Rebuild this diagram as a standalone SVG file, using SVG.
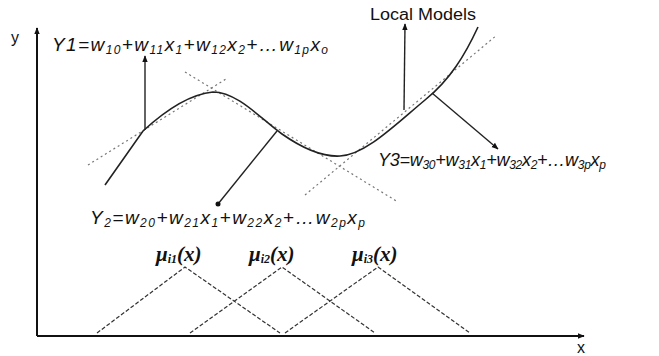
<svg xmlns="http://www.w3.org/2000/svg" width="659" height="356" viewBox="0 0 659 356">
<defs>
<marker id="ah" viewBox="0 0 10 10" refX="9" refY="5" markerWidth="7" markerHeight="7" orient="auto" markerUnits="userSpaceOnUse">
<path d="M0,1 L10,5 L0,9 z" fill="#111"/>
</marker>
<style>
.ax{stroke:#111;stroke-width:2;fill:none}
.curve{stroke:#222;stroke-width:1.6;fill:none}
.lm{stroke:#777;stroke-width:1.2;stroke-dasharray:2 3;fill:none}
.mf{stroke:#333;stroke-width:1.2;stroke-dasharray:4 2;fill:none}
.ln{stroke:#222;stroke-width:1.4;fill:none}
.eq{font-family:"Liberation Sans",Arial,sans-serif;font-style:italic;font-size:19px;fill:#111}
.eq3{font-size:18px}
.sub{font-size:12px}
.lab{font-family:"Liberation Sans",Arial,sans-serif;font-size:16px;fill:#111}
.mu{font-family:"Liberation Serif","Times New Roman",serif;font-style:italic;font-weight:bold;font-size:21px;fill:#111}
.musub{font-size:12px}
</style>
</defs>
<rect width="659" height="356" fill="#fff"/>
<g id="axes">
<line class="ax" x1="37" y1="336" x2="37" y2="28" marker-end="url(#ah)"/>
<line class="ax" x1="37" y1="336" x2="584" y2="336" marker-end="url(#ah)"/>
<text class="lab" x="11" y="43">y</text>
<text class="lab" x="577" y="353">x</text>
</g>
<g id="local-models">
<line class="lm" x1="88" y1="165" x2="226" y2="79"/>
<line class="lm" x1="185" y1="72" x2="398" y2="202"/>
<line class="lm" x1="305" y1="195" x2="497" y2="35"/>
</g>
<g id="nonlinear-curve">
<path class="curve" d="M105,185 L143,131 C168,108 192,94 213,92 C238,92 262,120 282,134 C302,148 322,157 340,156 C365,155 395,125 425,100 C450,80 465,55 478,27"/>
</g>
<g id="membership-functions">
<polyline class="mf" points="97,333 185,267 280,333"/>
<polyline class="mf" points="190,333 282,267 375,333"/>
<polyline class="mf" points="285,333 378,267 470,333"/>
</g>
<g id="connectors">
<line class="ln" x1="145" y1="130" x2="145" y2="56" marker-end="url(#ah)"/>
<line class="ln" x1="404" y1="110" x2="405" y2="24" marker-end="url(#ah)"/>
<line class="ln" x1="432" y1="93" x2="498" y2="149" marker-end="url(#ah)"/>
<line class="ln" x1="277" y1="131" x2="218" y2="204"/>
<circle cx="218" cy="204" r="2.5" fill="#111"/>
</g>
<g id="label-local-models">
<text class="lab" x="370" y="20" textLength="106" lengthAdjust="spacingAndGlyphs">Local Models</text>
</g>
<g id="eq-y1">
<text class="eq" x="52" y="51" textLength="276">Y1=w<tspan class="sub" dy="3">10</tspan><tspan dy="-3">+w</tspan><tspan class="sub" dy="3">11</tspan><tspan dy="-3">x</tspan><tspan class="sub" dy="3">1</tspan><tspan dy="-3">+w</tspan><tspan class="sub" dy="3">12</tspan><tspan dy="-3">x</tspan><tspan class="sub" dy="3">2</tspan><tspan dy="-3">+…w</tspan><tspan class="sub" dy="3">1p</tspan><tspan dy="-3">x</tspan><tspan class="sub" dy="3">o</tspan></text>
</g>
<g id="eq-y2">
<text class="eq" x="90" y="224" textLength="275">Y<tspan class="sub" dy="3">2</tspan><tspan dy="-3">=w</tspan><tspan class="sub" dy="3">20</tspan><tspan dy="-3">+w</tspan><tspan class="sub" dy="3">21</tspan><tspan dy="-3">x</tspan><tspan class="sub" dy="3">1</tspan><tspan dy="-3">+w</tspan><tspan class="sub" dy="3">22</tspan><tspan dy="-3">x</tspan><tspan class="sub" dy="3">2</tspan><tspan dy="-3">+…w</tspan><tspan class="sub" dy="3">2p</tspan><tspan dy="-3">x</tspan><tspan class="sub" dy="3">p</tspan></text>
</g>
<g id="eq-y3">
<text class="eq eq3" x="378" y="166" textLength="228">Y3=w<tspan class="sub" dy="3">30</tspan><tspan dy="-3">+w</tspan><tspan class="sub" dy="3">31</tspan><tspan dy="-3">x</tspan><tspan class="sub" dy="3">1</tspan><tspan dy="-3">+w</tspan><tspan class="sub" dy="3">32</tspan><tspan dy="-3">x</tspan><tspan class="sub" dy="3">2</tspan><tspan dy="-3">+…w</tspan><tspan class="sub" dy="3">3p</tspan><tspan dy="-3">x</tspan><tspan class="sub" dy="3">p</tspan></text>
</g>
<g id="mu1"><text class="mu" x="156" y="261">μ<tspan class="musub" dy="2">i1</tspan><tspan dy="-2">(x)</tspan></text></g>
<g id="mu2"><text class="mu" x="249" y="261">μ<tspan class="musub" dy="2">i2</tspan><tspan dy="-2">(x)</tspan></text></g>
<g id="mu3"><text class="mu" x="352" y="261">μ<tspan class="musub" dy="2">i3</tspan><tspan dy="-2">(x)</tspan></text></g>
</svg>
